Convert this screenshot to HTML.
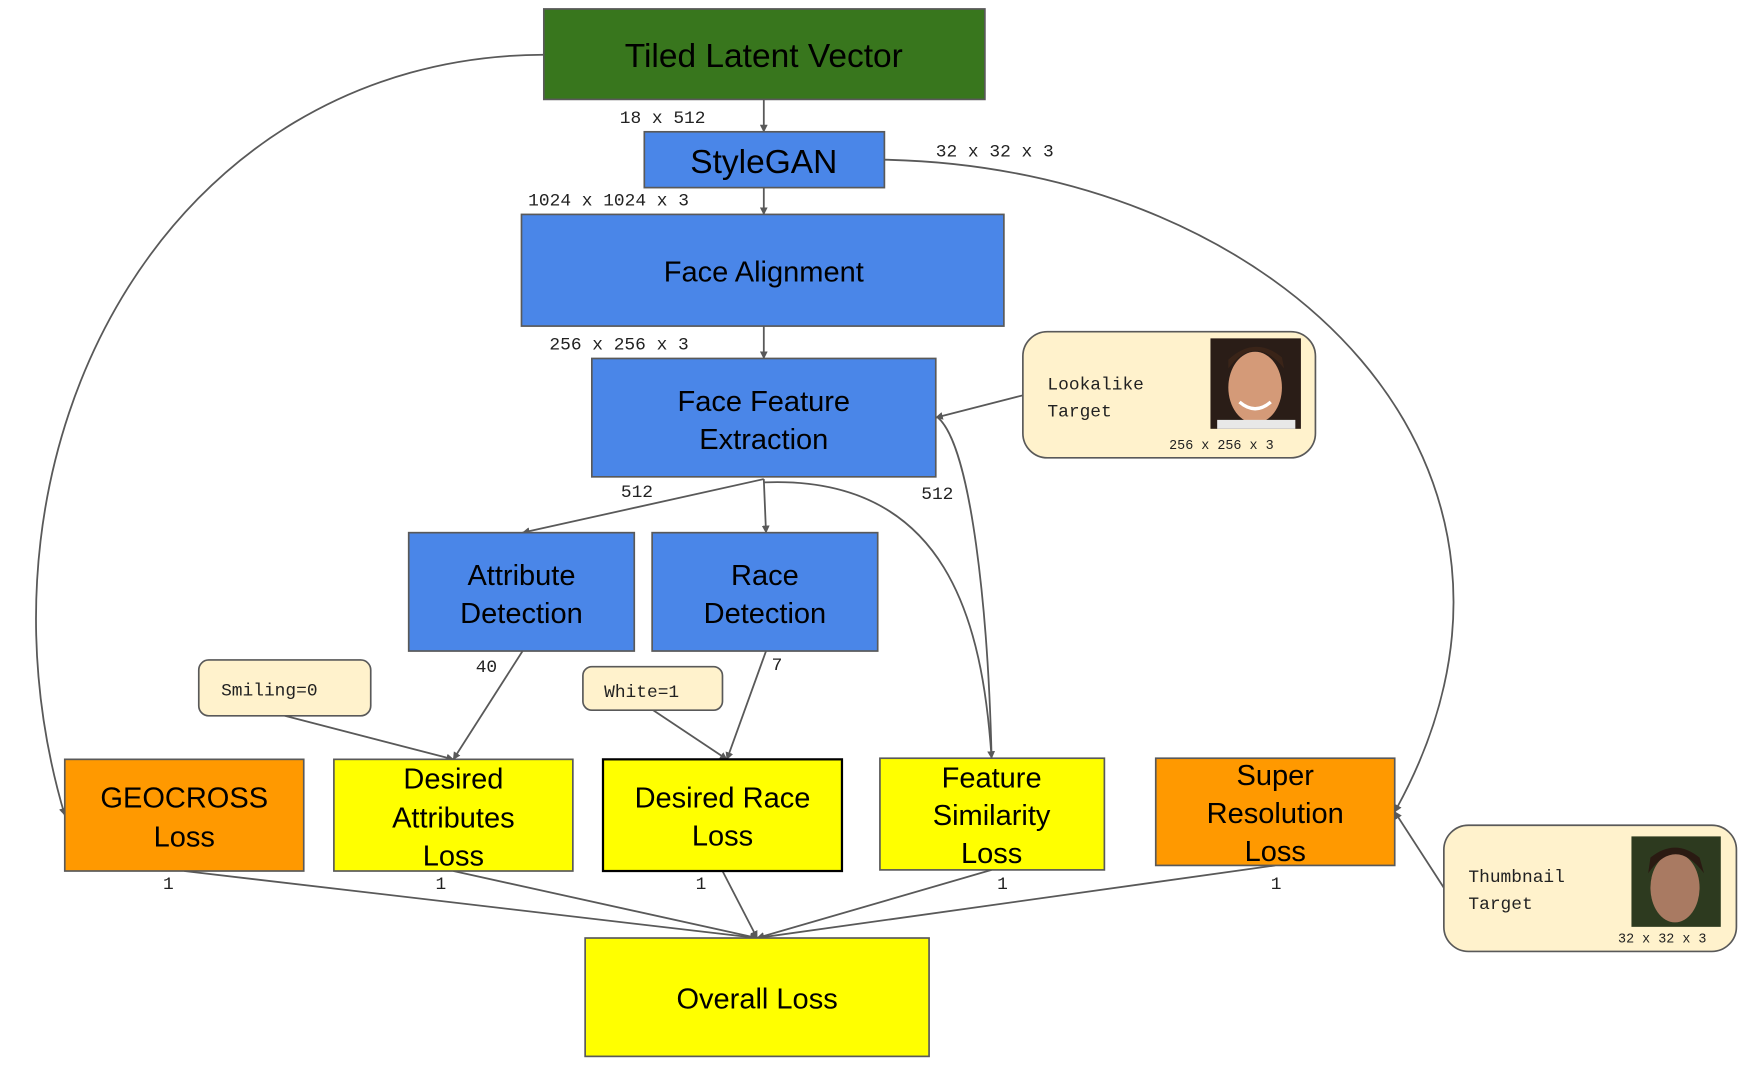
<!DOCTYPE html>
<html><head><meta charset="utf-8"><style>
html,body{margin:0;padding:0;background:#fff;}
svg{display:block;}
.b{font-family:"Liberation Sans",Arial,sans-serif;fill:#000;text-anchor:middle;}
.m{font-family:"Liberation Mono","Courier New",monospace;fill:#222;}
</style></head><body>
<svg width="1742" height="1066" viewBox="0 0 1560 954.6" xmlns="http://www.w3.org/2000/svg">
<defs>
<marker id="a" viewBox="0 0 10 10" refX="9" refY="5" markerWidth="7" markerHeight="7" orient="auto-start-reverse" markerUnits="userSpaceOnUse">
<path d="M0,0 L10,5 L0,10 z" fill="#595959"/></marker>
</defs>
<g fill="none" stroke="#595959" stroke-width="1.6">
<path d="M487,49 C150,50 -40,400 58,730" marker-end="url(#a)"/>
<path d="M792,143 C1150,150 1420,420 1249,727" marker-end="url(#a)"/>
<path d="M684,89 L684,118" marker-end="url(#a)"/>
<path d="M684,168 L684,192" marker-end="url(#a)"/>
<path d="M684,292 L684,321" marker-end="url(#a)"/>
<path d="M684,429 L468,477" marker-end="url(#a)"/>
<path d="M684,429 L686,477" marker-end="url(#a)"/>
<path d="M684,432 C850,425 880,560 888,679" marker-end="url(#a)"/>
<path d="M916,354 L838,374" marker-end="url(#a)"/>
<path d="M840,374 C870,400 885,550 888,679"/>
<path d="M255,641 L406,680" marker-end="url(#a)"/>
<path d="M468,583 L406,680" marker-end="url(#a)"/>
<path d="M585,636 L651,680" marker-end="url(#a)"/>
<path d="M686,583 L651,680" marker-end="url(#a)"/>
<path d="M165,780 L678,840" marker-end="url(#a)"/>
<path d="M406,780 L678,840" marker-end="url(#a)"/>
<path d="M647,780 L678,840" marker-end="url(#a)"/>
<path d="M888,779 L678,840" marker-end="url(#a)"/>
<path d="M1142,775 L678,840" marker-end="url(#a)"/>
<path d="M1293,795 L1249,727" marker-end="url(#a)"/>
</g>
<g stroke="#595959" stroke-width="1.5">
<rect x="487" y="8" width="395" height="81" fill="#38761d"/>
<rect x="577" y="118" width="215" height="50" fill="#4a86e8"/>
<rect x="467" y="192" width="432" height="100" fill="#4a86e8"/>
<rect x="530" y="321" width="308" height="106" fill="#4a86e8"/>
<rect x="366" y="477" width="202" height="106" fill="#4a86e8"/>
<rect x="584" y="477" width="202" height="106" fill="#4a86e8"/>
<rect x="58" y="680" width="214" height="100" fill="#ff9900"/>
<rect x="299" y="680" width="214" height="100" fill="#ffff00"/>
<rect x="540" y="680" width="214" height="100" fill="#ffff00" stroke="#000" stroke-width="2"/>
<rect x="788" y="679" width="201" height="100" fill="#ffff00"/>
<rect x="1035" y="679" width="214" height="96" fill="#ff9900"/>
<rect x="524" y="840" width="308" height="106" fill="#ffff00"/>
<rect x="916" y="297" width="262" height="113" rx="22" fill="#fff2cc"/>
<rect x="1293" y="739" width="262" height="113" rx="22" fill="#fff2cc"/>
<rect x="178" y="591" width="154" height="50" rx="9" fill="#fff2cc"/>
<rect x="522" y="597" width="125" height="39" rx="8" fill="#fff2cc"/>
</g>
<!-- faces -->
<rect x="1084" y="303" width="81" height="81" fill="#2a1d17"/>
<ellipse cx="1124" cy="347" rx="24" ry="32" fill="#d49a78"/>
<path d="M1100,330 Q1124,298 1150,330 L1148,320 Q1124,300 1100,322z" fill="#3a2418"/>
<path d="M1110,360 Q1124,372 1138,360" stroke="#fff" stroke-width="3" fill="none"/>
<rect x="1090" y="376" width="70" height="8" fill="#e8e8e8"/>
<rect x="1461" y="749" width="80" height="81" fill="#2d3a1f"/>
<ellipse cx="1500" cy="795" rx="22" ry="31" fill="#a97a62"/>
<path d="M1476,782 Q1500,748 1526,782 L1522,768 Q1500,750 1478,768z" fill="#2a1a12"/>
<!-- box labels -->
<g class="b" font-size="30">
<text x="684" y="60">Tiled Latent Vector</text>
<text x="684" y="155">StyleGAN</text>
</g>
<g class="b" font-size="26">
<text x="684" y="252">Face Alignment</text>
<text x="684" y="368">Face Feature</text><text x="684" y="402">Extraction</text>
<text x="467" y="524">Attribute</text><text x="467" y="558">Detection</text>
<text x="685" y="524">Race</text><text x="685" y="558">Detection</text>
<text x="165" y="723">GEOCROSS</text><text x="165" y="758">Loss</text>
<text x="406" y="706">Desired</text><text x="406" y="741">Attributes</text><text x="406" y="775">Loss</text>
<text x="647" y="723">Desired Race</text><text x="647" y="757">Loss</text>
<text x="888" y="705">Feature</text><text x="888" y="739">Similarity</text><text x="888" y="773">Loss</text>
<text x="1142" y="703">Super</text><text x="1142" y="737">Resolution</text><text x="1142" y="771">Loss</text>
<text x="678" y="903">Overall Loss</text>
</g>
<g class="m" font-size="16">
<text x="555" y="110">18 x 512</text>
<text x="838" y="140">32 x 32 x 3</text>
<text x="473" y="184">1024 x 1024 x 3</text>
<text x="492" y="313">256 x 256 x 3</text>
<text x="556" y="445">512</text>
<text x="825" y="447">512</text>
<text x="426" y="602">40</text>
<text x="691" y="600">7</text>
<text x="198" y="623">Smiling=0</text>
<text x="541" y="624">White=1</text>
<text x="146" y="796">1</text>
<text x="390" y="796">1</text>
<text x="623" y="796">1</text>
<text x="893" y="796">1</text>
<text x="1138" y="796">1</text>
<text x="938" y="349">Lookalike</text>
<text x="938" y="373">Target</text>
<text x="1315" y="790">Thumbnail</text>
<text x="1315" y="814">Target</text>
</g>
<g class="m" font-size="12">
<text x="1047" y="402">256 x 256 x 3</text>
<text x="1449" y="844">32 x 32 x 3</text>
</g>
</svg>
</body></html>
